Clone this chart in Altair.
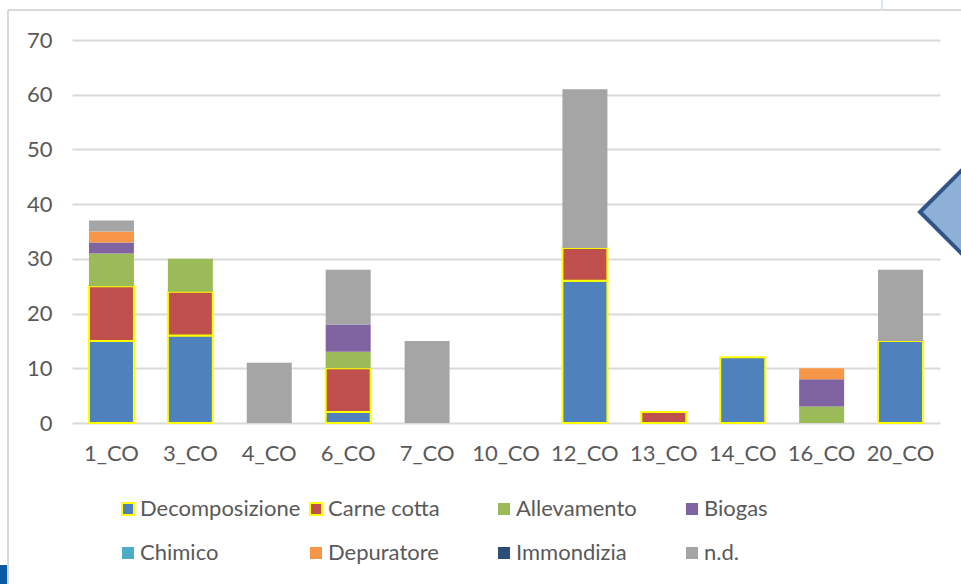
import altair as alt
import pandas as pd

# Sampling sites
categories = ["1_CO", "3_CO", "4_CO", "6_CO", "7_CO", "10_CO",
              "12_CO", "13_CO", "14_CO", "16_CO", "20_CO"]

# Counts per odour source, one list per series (same order as categories)
series = ["Decomposizione", "Carne cotta", "Allevamento", "Biogas",
          "Chimico", "Depuratore", "Immondizia", "n.d."]
decomposizione = [15, 16, 0, 2, 0, 0, 26, 0, 12, 0, 15]
carne_cotta = [10, 8, 0, 8, 0, 0, 6, 2, 0, 0, 0]
allevamento = [6, 6, 0, 3, 0, 0, 0, 0, 0, 3, 0]
biogas = [2, 0, 0, 5, 0, 0, 0, 0, 0, 5, 0]
chimico = [0, 0, 0, 0, 0, 0, 0, 0, 0, 0, 0]
depuratore = [2, 0, 0, 0, 0, 0, 0, 0, 0, 2, 0]
immondizia = [0, 0, 0, 0, 0, 0, 0, 0, 0, 0, 0]
nd = [2, 0, 11, 10, 15, 0, 29, 0, 0, 0, 13]

fill_colors = ["#4F81BD", "#C0504D", "#9BBB59", "#8064A2",
               "#4BACC6", "#F79646", "#2C4D75", "#A5A5A5"]
# Highlighted sources get a yellow outline
stroke_colors = ["#FFFF00", "#FFFF00", "transparent", "transparent",
                 "transparent", "transparent", "transparent", "transparent"]

values = [decomposizione, carne_cotta, allevamento, biogas,
          chimico, depuratore, immondizia, nd]
rows = []
for s_idx, (name, vals) in enumerate(zip(series, values)):
    for cat, v in zip(categories, vals):
        if v > 0:
            rows.append({"site": cat, "source": name, "count": v, "idx": s_idx})
df = pd.DataFrame(rows)

FONT = "Lato"
TEXT = "#595959"
GRID = "#D9D9D9"

W, H = 868, 383
LEFT, TOP = 72, 40

legend = alt.Legend(
    title=None, orient="none", legendX=45, legendY=458, direction="horizontal",
    columns=4, gridAlign="all", columnPadding=4, rowPadding=22,
    symbolType="square", symbolSize=144, symbolStrokeWidth=2,
    labelFont=FONT, labelFontSize=22, labelColor=TEXT, labelOffset=1,
    labelLimit=400, padding=0,
)

bars = alt.Chart(df).mark_bar(strokeWidth=2).encode(
    x=alt.X("site:N", title=None,
            scale=alt.Scale(domain=categories, paddingInner=0.43, paddingOuter=0.215),
            axis=alt.Axis(labelAngle=0, labelFont=FONT, labelFontSize=22,
                          labelColor=TEXT, labelPadding=20, domain=False,
                          ticks=False, grid=False)),
    y=alt.Y("count:Q", title=None, stack="zero",
            scale=alt.Scale(domain=[0, 70], nice=False),
            axis=alt.Axis(values=list(range(0, 71, 10)), labelFont=FONT,
                          labelFontSize=22, labelColor=TEXT, labelPadding=20,
                          domain=False, ticks=False, gridColor=GRID,
                          gridWidth=2)),
    fill=alt.Fill("source:N", scale=alt.Scale(domain=series, range=fill_colors),
                  legend=legend),
    stroke=alt.Stroke("source:N", scale=alt.Scale(domain=series, range=stroke_colors),
                      legend=legend),
    order=alt.Order("idx:Q", sort="ascending"),
)

# Slide decorations around the chart frame
frame_left = alt.Chart().mark_rule(color=GRID, strokeWidth=2).encode(
    x=alt.value(8 - LEFT), y=alt.value(10 - TOP), y2=alt.value(584 - TOP))
frame_top = alt.Chart().mark_rule(color=GRID, strokeWidth=2).encode(
    x=alt.value(8 - LEFT), x2=alt.value(961 - LEFT), y=alt.value(10 - TOP))
tick_top = alt.Chart().mark_rule(color="#DAE6F5", strokeWidth=2).encode(
    x=alt.value(882 - LEFT), y=alt.value(0 - TOP), y2=alt.value(10 - TOP))
corner = alt.Chart().mark_rect(color="#0B5AA6").encode(
    x=alt.value(0 - LEFT), x2=alt.value(7 - LEFT),
    y=alt.value(565 - TOP), y2=alt.value(584 - TOP))
pointer = alt.Chart().mark_point(
    shape="diamond", size=84 * 84, filled=True, fill="#8EAFD6",
    stroke="#2F5589", strokeWidth=4, opacity=1, fillOpacity=1,
).encode(x=alt.value(962 - LEFT), y=alt.value(212 - TOP))

chart = alt.layer(
    bars, frame_left, frame_top, tick_top, corner, pointer
).properties(
    width=W, height=H,
    padding={"left": LEFT, "top": TOP, "right": 961 - LEFT - W, "bottom": 584 - TOP - H},
    autosize=alt.AutoSizeParams(type="none"),
    background="white",
).configure_view(stroke=None)

chart.save("out.html", embed_options={"renderer": "svg", "actions": False})
